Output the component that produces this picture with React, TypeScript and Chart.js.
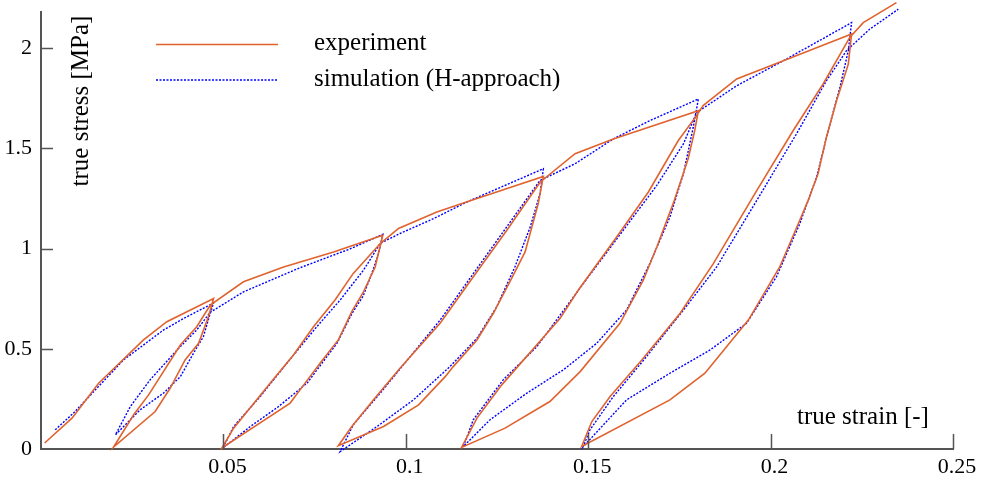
import { useEffect, useRef } from "react";
import { Chart, registerables } from "chart.js";

Chart.register(...registerables);

// ---- data ----
const expStrain = [
  0.001, 0.0085, 0.0158, 0.0281, 0.0345, 0.0473,
  0.0459, 0.0432, 0.0395, 0.0354, 0.0313, 0.0199,
  0.0254, 0.0295, 0.0382, 0.0427, 0.0464,
  0.0555, 0.0665, 0.0802, 0.0937,
  0.0916, 0.0884, 0.0852, 0.0815, 0.0765, 0.071, 0.0683, 0.0496,
  0.0528, 0.0628, 0.0692, 0.0747, 0.0806, 0.0856, 0.093,
  0.098, 0.1085, 0.1158, 0.1377,
  0.1363, 0.1327, 0.129, 0.124, 0.1195, 0.113, 0.1108, 0.1035, 0.0939, 0.0815,
  0.0852, 0.0911, 0.0984, 0.1094, 0.1195, 0.1277, 0.1368,
  0.1464, 0.1569, 0.1802,
  0.1792, 0.1774, 0.1733, 0.1688, 0.1651, 0.1587, 0.1478, 0.1395, 0.1272, 0.1153,
  0.1195, 0.1263, 0.1423, 0.1473, 0.1578, 0.1665, 0.1747, 0.1797,
  0.1815, 0.1907, 0.2035, 0.2222,
  0.2213, 0.2181, 0.2153, 0.213, 0.2103, 0.208, 0.2025, 0.1939, 0.182, 0.1724, 0.1482,
  0.151, 0.156, 0.1647, 0.1752, 0.1843, 0.1957, 0.2062, 0.2144, 0.2217,
  0.2254, 0.2345,
];
const expStress = [
  0.03, 0.154, 0.328, 0.544, 0.635, 0.751,
  0.66, 0.527, 0.444, 0.303, 0.187, 0.01,
  0.171, 0.27, 0.519, 0.61, 0.718,
  0.834, 0.908, 0.983, 1.066,
  0.908, 0.784, 0.685, 0.544, 0.428, 0.295, 0.229, 0.005,
  0.104, 0.328, 0.469, 0.61, 0.743, 0.876, 1.025,
  1.1, 1.182, 1.227, 1.36,
  1.224, 0.983, 0.851, 0.677, 0.544, 0.411, 0.361, 0.22, 0.112, 0.016,
  0.112, 0.245, 0.403, 0.627, 0.884, 1.091, 1.331,
  1.473, 1.547, 1.688,
  1.588, 1.448, 1.224, 1.008, 0.842, 0.627, 0.386, 0.237, 0.104, 0.008,
  0.154, 0.32, 0.652, 0.793, 1.058, 1.282, 1.539, 1.663,
  1.713, 1.846, 1.937, 2.07,
  1.92, 1.738, 1.555, 1.373, 1.24, 1.141, 0.908, 0.643, 0.378, 0.245, 0.013,
  0.137, 0.262, 0.444, 0.677, 0.925, 1.274, 1.589, 1.821, 2.053,
  2.127, 2.227,
];

const simStrain = [
  0.0039, 0.0089, 0.0162, 0.0226, 0.0336, 0.04, 0.0473,
  0.0464, 0.0445, 0.0418, 0.0382, 0.0336, 0.0272, 0.0204,
  0.0245, 0.0299, 0.0373, 0.0427, 0.0464,
  0.0555, 0.0711, 0.0847, 0.0937,
  0.0924, 0.0905, 0.0883, 0.0853, 0.0812, 0.0787, 0.073, 0.065, 0.0573, 0.0499,
  0.0528, 0.0601, 0.0674, 0.0756, 0.082, 0.0884, 0.093,
  0.0984, 0.1076, 0.1167, 0.1377,
  0.1368, 0.1341, 0.1299, 0.1249, 0.1195, 0.1121, 0.1021, 0.0921, 0.082,
  0.0856, 0.093, 0.1012, 0.1094, 0.1195, 0.1286, 0.1368,
  0.1464, 0.1569, 0.1669, 0.1802,
  0.1788, 0.1761, 0.1724, 0.1669, 0.1605, 0.1523, 0.1432, 0.1332, 0.1231, 0.1158,
  0.1185, 0.1267, 0.1359, 0.1487, 0.1596, 0.1688, 0.1761, 0.1797,
  0.1907, 0.2035, 0.2222,
  0.2213, 0.219, 0.2158, 0.2126, 0.208, 0.2016, 0.1934, 0.1834, 0.1724, 0.1605, 0.1486,
  0.1505, 0.1569, 0.166, 0.1761, 0.1852, 0.1962, 0.2071, 0.2153, 0.2208,
  0.2272, 0.235,
];
const simStress = [
  0.096, 0.179, 0.32, 0.444, 0.594, 0.66, 0.728,
  0.677, 0.56, 0.478, 0.361, 0.279, 0.196, 0.071,
  0.212, 0.345, 0.494, 0.594, 0.682,
  0.784, 0.905, 0.998, 1.071,
  0.967, 0.867, 0.763, 0.678, 0.529, 0.469, 0.33, 0.21, 0.111, 0.006,
  0.112, 0.262, 0.428, 0.61, 0.743, 0.892, 1.026,
  1.075, 1.149, 1.232, 1.398,
  1.274, 1.107, 0.908, 0.709, 0.552, 0.411, 0.245, 0.112, -0.013,
  0.121, 0.279, 0.461, 0.643, 0.9, 1.132, 1.34,
  1.423, 1.547, 1.638, 1.746,
  1.605, 1.373, 1.157, 0.925, 0.693, 0.527, 0.395, 0.279, 0.146, 0.013,
  0.146, 0.345, 0.51, 0.826, 1.091, 1.315, 1.522, 1.678,
  1.812, 1.937, 2.127,
  1.987, 1.804, 1.589, 1.356, 1.124, 0.859, 0.627, 0.494, 0.378, 0.245, 0.011,
  0.096, 0.262, 0.461, 0.693, 0.908, 1.24, 1.572, 1.837, 1.987,
  2.095, 2.194,
];

const xTicks = [0.05, 0.1, 0.15, 0.2, 0.25];
const yTicks = [0, 0.5, 1, 1.5, 2];
const xTitle = "true strain [-]";
const yTitle = "true stress [MPa]";
const seriesNames = ["experiment", "simulation (H-approach)"];

const FONT = "'Liberation Serif', 'Times New Roman', serif";
const ORANGE = "#E0622D";
const BLUE = "#0000FF";
const AXIS = "#555555";

const decoPlugin = {
  id: "deco",
  afterDraw(chart: any) {
    const { ctx, chartArea, scales } = chart;
    const xs = scales.x;
    const ys = scales.y;
    ctx.save();
    // inward tick marks
    ctx.strokeStyle = AXIS;
    ctx.lineWidth = 1.5;
    ctx.beginPath();
    xTicks.forEach((v) => {
      const px = Math.round(xs.getPixelForValue(v)) + 0.5;
      ctx.moveTo(px, chartArea.bottom);
      ctx.lineTo(px, chartArea.bottom - 15);
    });
    yTicks.forEach((v) => {
      if (v === 0) return;
      const py = Math.round(ys.getPixelForValue(v)) + 0.5;
      ctx.moveTo(chartArea.left, py);
      ctx.lineTo(chartArea.left + 12, py);
    });
    ctx.stroke();

    // axis titles
    ctx.fillStyle = "#000";
    ctx.font = `25px ${FONT}`;
    ctx.textAlign = "left";
    ctx.textBaseline = "alphabetic";
    ctx.fillText(xTitle, 797, 424);
    ctx.save();
    ctx.translate(88, 101);
    ctx.rotate(-Math.PI / 2);
    ctx.textAlign = "center";
    ctx.fillText(yTitle, 0, 0);
    ctx.restore();

    // legend
    ctx.lineWidth = 1.6;
    ctx.strokeStyle = ORANGE;
    ctx.setLineDash([]);
    ctx.beginPath();
    ctx.moveTo(156, 44.5);
    ctx.lineTo(278, 44.5);
    ctx.stroke();
    ctx.strokeStyle = BLUE;
    ctx.setLineDash([2, 1.5]);
    ctx.beginPath();
    ctx.moveTo(156, 80);
    ctx.lineTo(278, 80);
    ctx.stroke();
    ctx.setLineDash([]);
    ctx.fillText(seriesNames[0], 314, 50);
    ctx.fillText(seriesNames[1], 314, 86);
    ctx.restore();
  },
};

export default function App() {
  const canvasRef = useRef<HTMLCanvasElement | null>(null);

  useEffect(() => {
    document.body.style.margin = "0";
    const canvas = canvasRef.current;
    if (!canvas) return;
    const chart = new Chart(canvas, {
      type: "scatter",
      data: {
        datasets: [
          {
            label: seriesNames[0],
            data: expStrain.map((x, i) => ({ x, y: expStress[i] })),
            showLine: true,
            borderColor: ORANGE,
            backgroundColor: ORANGE,
            borderWidth: 1.6,
            pointRadius: 0,
            tension: 0,
            fill: false,
            clip: false as any,
          },
          {
            label: seriesNames[1],
            data: simStrain.map((x, i) => ({ x, y: simStress[i] })),
            showLine: true,
            borderColor: BLUE,
            backgroundColor: BLUE,
            borderWidth: 1.4,
            borderDash: [2, 1.5],
            pointRadius: 0,
            tension: 0,
            fill: false,
            clip: false as any,
          },
        ],
      },
      options: {
        responsive: false,
        animation: false,
        events: [],
        devicePixelRatio: 1,
        layout: { padding: { top: 12, right: 28, left: 0, bottom: 0 } },
        plugins: {
          legend: { display: false },
          tooltip: { enabled: false },
        },
        scales: {
          x: {
            type: "linear",
            min: 0,
            max: 0.25,
            grid: { display: true, drawOnChartArea: false, drawTicks: false },
            border: { display: true, color: AXIS, width: 2 },
            afterBuildTicks: (scale: any) => {
              scale.ticks = xTicks.map((v) => ({ value: v }));
            },
            afterFit: (scale: any) => {
              scale.height = 38;
              scale.paddingLeft = 0;
              scale.paddingRight = 0;
            },
            ticks: {
              padding: 5,
              labelOffset: 4,
              color: "#000",
              maxRotation: 0,
              autoSkip: false,
              font: { family: FONT, size: 22 },
              callback: (v: any) => String(v),
            },
          },
          y: {
            type: "linear",
            min: 0,
            max: 2.18,
            grid: { display: true, drawOnChartArea: false, drawTicks: false },
            border: { display: true, color: AXIS, width: 2 },
            afterBuildTicks: (scale: any) => {
              scale.ticks = yTicks.map((v) => ({ value: v }));
            },
            afterFit: (scale: any) => {
              scale.width = 41;
              scale.paddingTop = 0;
              scale.paddingBottom = 0;
            },
            ticks: {
              padding: 9,
              color: "#000",
              autoSkip: false,
              font: { family: FONT, size: 22 },
              callback: (v: any) => String(v),
            },
          },
        },
      },
      plugins: [decoPlugin],
    });
    return () => chart.destroy();
  }, []);

  return (
    <div style={{ width: 981, height: 487 }}>
      <canvas ref={canvasRef} width={981} height={487} style={{ display: "block" }} />
    </div>
  );
}
